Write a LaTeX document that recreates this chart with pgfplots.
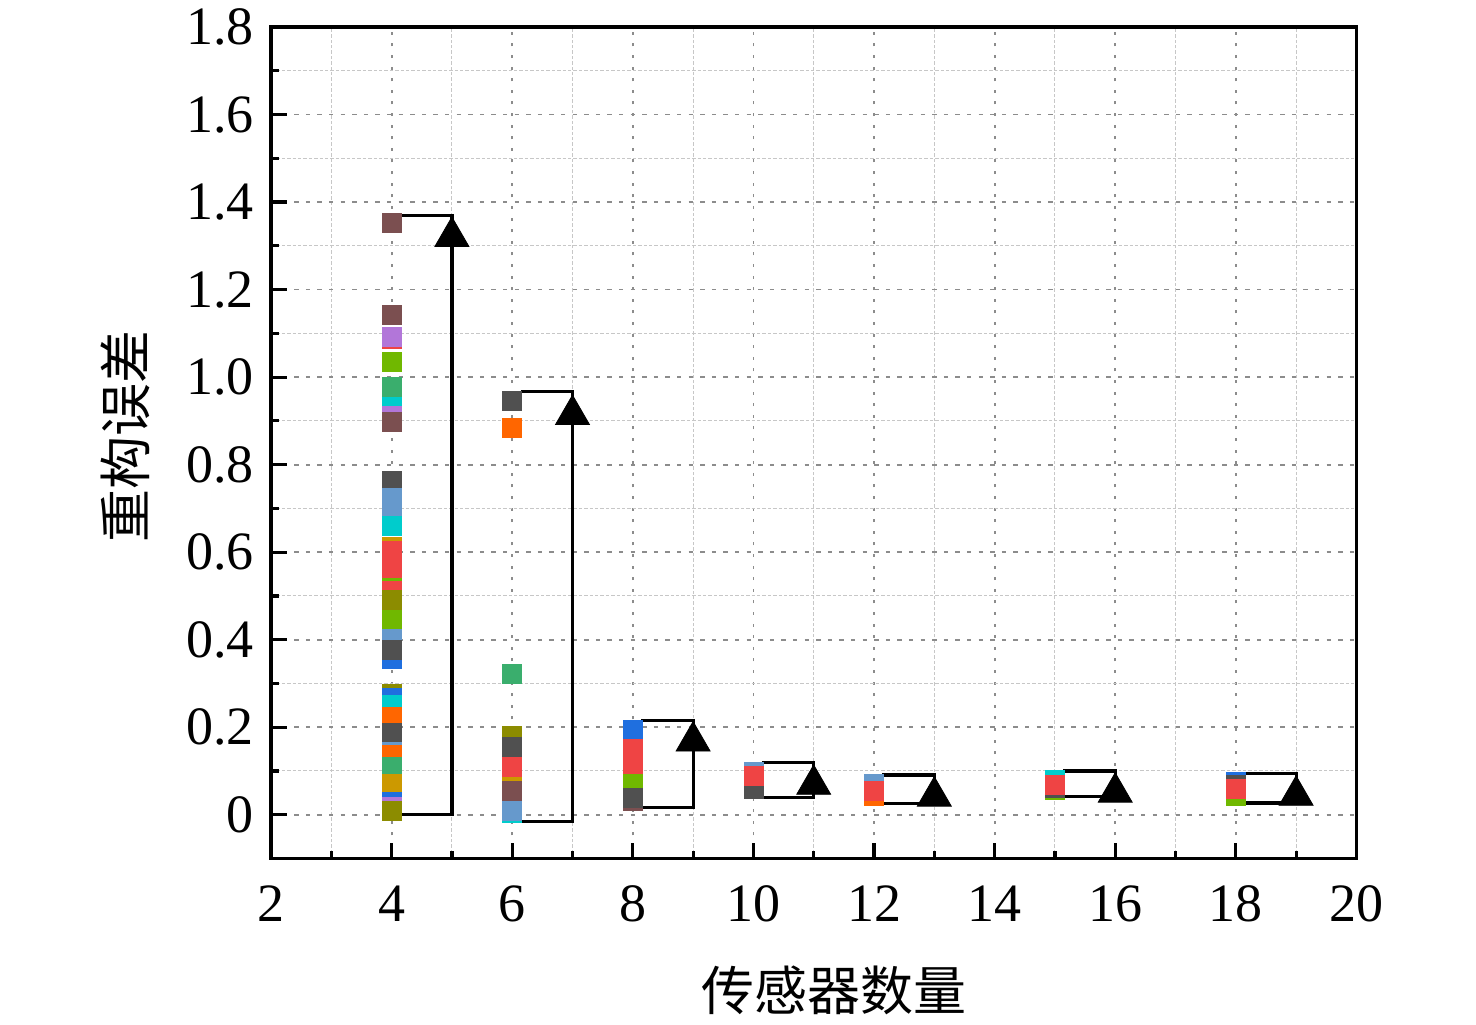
\documentclass[border=0pt]{standalone}
\usepackage{fontspec}
\setmainfont{Liberation Serif}
\newfontfamily\cjk{Noto Sans CJK SC}
\usepackage{pgfplots}
\pgfplotsset{compat=1.18}
\definecolor{cbr}{HTML}{7B4F50}
\definecolor{cpu}{HTML}{B276D9}
\definecolor{cre}{HTML}{EF4444}
\definecolor{cli}{HTML}{70B800}
\definecolor{csg}{HTML}{3AAE6D}
\definecolor{ccy}{HTML}{00CCCC}
\definecolor{cdg}{HTML}{505050}
\definecolor{csb}{HTML}{6699CC}
\definecolor{cgo}{HTML}{CC9900}
\definecolor{col}{HTML}{8C8C00}
\definecolor{cor}{HTML}{FF6600}
\definecolor{cbl}{HTML}{1F6FDF}
\newcommand{\sq}[3]{\addplot[only marks, mark=square*, mark size=4.75pt, color=#1] coordinates {(#2,#3)};}
\newcommand{\tri}[2]{\addplot[only marks, mark=triangle*, mark size=9.8pt, color=black] coordinates {(#1,#2)};}
\begin{document}
\begin{tikzpicture}
\useasboundingbox (-135.5pt,-82.75pt) rectangle (602.5pt,429.25pt);
\begin{axis}[
  at={(0,0)}, anchor=south west,
  scale only axis, width=542.7pt, height=415.75pt,
  xmin=2, xmax=20, ymin=-0.1, ymax=1.8,
  xtick={2,4,6,8,10,12,14,16,18,20},
  xticklabels={2,4,6,8,10,12,14,16,18,20},
  minor xtick={3,5,7,9,11,13,15,17,19},
  ytick={0,0.2,0.4,0.6,0.8,1.0,1.2,1.4,1.6,1.8},
  yticklabels={0,0.2,0.4,0.6,0.8,1.0,1.2,1.4,1.6,1.8},
  minor ytick={0.1,0.3,0.5,0.7,0.9,1.1,1.3,1.5,1.7},
  tick pos=left, tick align=inside,
  major tick length=7.8pt, minor tick length=4pt,
  tick style={black, line width=1.6pt},
  axis line style={line width=1.7pt},
  ticklabel style={font=\fontsize{27}{31}\selectfont},
  yticklabel style={xshift=-5pt},
  xticklabel style={yshift=-10pt},
  grid=both,
  major x grid style={dash pattern=on 1.5pt off 4.3pt, line width=0.9pt, color=black!45},
  major y grid style={dash pattern=on 2.2pt off 3.6pt, line width=0.9pt, color=black!45},
  minor grid style={dash pattern=on 1.7pt off 1pt, line width=0.5pt, color=black!22},
  xlabel={\cjk 传感器数量},
  xlabel style={at={(axis description cs:0.519,-0.158)}, anchor=center, font=\fontsize{26.5}{30}\selectfont},
  ylabel={\cjk 重构误差},
  ylabel style={at={(axis description cs:-0.1345,0.508)}, anchor=center, font=\fontsize{26.5}{30}\selectfont},
]
% ---- group x=4
\sq{cre}{4}{1.087}
\sq{cbr}{4}{1.353}
\sq{cbr}{4}{1.143}
\sq{cpu}{4}{1.093}
\sq{cli}{4}{1.035}
\sq{csg}{4}{0.977}
\sq{ccy}{4}{0.933}
\sq{cpu}{4}{0.912}
\sq{cbr}{4}{0.897}
\sq{cdg}{4}{0.762}
\sq{csb}{4}{0.723}
\sq{csb}{4}{0.704}
\sq{ccy}{4}{0.659}
\sq{cgo}{4}{0.611}
\sq{cre}{4}{0.602}
\sq{cre}{4}{0.563}
\sq{cli}{4}{0.519}
\sq{cre}{4}{0.511}
\sq{col}{4}{0.492}
\sq{cli}{4}{0.446}
\sq{csb}{4}{0.402}
\sq{cbl}{4}{0.357}
\sq{cdg}{4}{0.376}
\sq{col}{4}{0.277}
\sq{cbl}{4}{0.266}
\sq{ccy}{4}{0.252}
\sq{cor}{4}{0.224}
\sq{cdg}{4}{0.186}
\sq{csb}{4}{0.143}
\sq{cor}{4}{0.136}
\sq{csg}{4}{0.110}
\sq{cgo}{4}{0.070}
\sq{cbl}{4}{0.029}
\sq{cpu}{4}{0.018}
\sq{col}{4}{0.009}
% ---- group x=6
\sq{cdg}{6}{0.946}
\sq{cor}{6}{0.885}
\sq{csg}{6}{0.321}
\sq{col}{6}{0.180}
\sq{cdg}{6}{0.156}
\sq{cre}{6}{0.109}
\sq{cgo}{6}{0.063}
\sq{cbr}{6}{0.054}
\sq{ccy}{6}{0.004}
\sq{csb}{6}{0.009}
% ---- group x=8
\sq{cbl}{8}{0.194}
\sq{cre}{8}{0.151}
\sq{cre}{8}{0.113}
\sq{cli}{8}{0.070}
\sq{cbr}{8}{0.032}
\sq{cdg}{8}{0.038}
% ---- group x=10
\sq{csb}{10}{0.098}
\sq{cdg}{10}{0.058}
\sq{cre}{10}{0.089}
% ---- group x=12
\sq{cor}{12}{0.043}
\sq{csb}{12}{0.070}
\sq{cre}{12}{0.054}
% ---- group x=15
\sq{ccy}{15}{0.079}
\sq{cli}{15}{0.056}
\sq{cdg}{15}{0.061}
\sq{cre}{15}{0.068}
% ---- group x=18
\sq{cbl}{18}{0.074}
\sq{cdg}{18}{0.068}
\sq{cli}{18}{0.043}
\sq{cre}{18}{0.058}
% ---- brackets
\addplot[black, line width=1.6pt, line join=miter, mark=none] coordinates {(4.09,1.370) (5,1.370) (5,0.000) (4.09,0.000)};
\addplot[black, line width=1.6pt, line join=miter, mark=none] coordinates {(6.14,0.968) (7,0.968) (7,-0.016) (6.14,-0.016)};
\addplot[black, line width=1.6pt, line join=miter, mark=none] coordinates {(8.14,0.215) (9,0.215) (9,0.016) (8.14,0.016)};
\addplot[black, line width=1.6pt, line join=miter, mark=none] coordinates {(10.14,0.119) (11,0.119) (11,0.039) (10.14,0.039)};
\addplot[black, line width=1.6pt, line join=miter, mark=none] coordinates {(12.14,0.091) (13,0.091) (13,0.025) (12.14,0.025)};
\addplot[black, line width=1.6pt, line join=miter, mark=none] coordinates {(15.14,0.100) (16,0.100) (16,0.041) (15.14,0.041)};
\addplot[black, line width=1.6pt, line join=miter, mark=none] coordinates {(18.14,0.094) (19,0.094) (19,0.027) (18.14,0.027)};
% ---- triangles
\tri{5}{1.321}
\tri{7}{0.914}
\tri{9}{0.168}
\tri{11}{0.069}
\tri{13}{0.042}
\tri{16}{0.051}
\tri{19}{0.044}
\end{axis}
\end{tikzpicture}
\end{document}
